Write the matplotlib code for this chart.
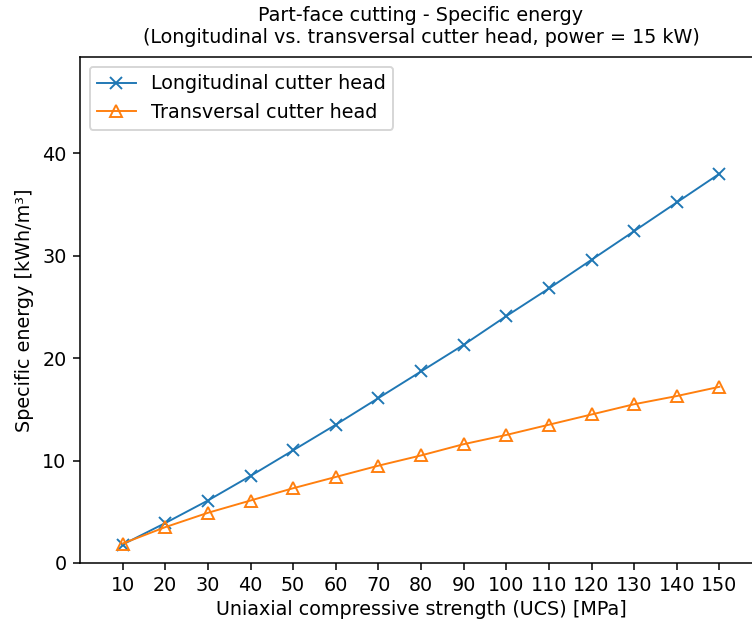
import matplotlib
matplotlib.use("Agg")
import matplotlib.pyplot as plt

ucs = [10, 20, 30, 40, 50, 60, 70, 80, 90, 100, 110, 120, 130, 140, 150]
longitudinal = [1.8, 3.9, 6.1, 8.5, 11.0, 13.5, 16.1, 18.7, 21.3, 24.1, 26.8, 29.6, 32.4, 35.2, 38.0]
transversal = [1.9, 3.5, 4.9, 6.1, 7.3, 8.4, 9.5, 10.5, 11.6, 12.5, 13.5, 14.5, 15.5, 16.3, 17.2]

DPI = 138
fig = plt.figure(figsize=(752 / DPI, 625 / DPI), dpi=DPI)
ax = fig.add_axes([80 / 752, 62 / 625, 682 / 752, 506 / 625])

ax.plot(ucs, longitudinal, marker='x', lw=1, label='Longitudinal cutter head')
ax.plot(ucs, transversal, marker='^', lw=1, markerfacecolor='none', label='Transversal cutter head')

ax.set_title('Part-face cutting - Specific energy\n'
             '(Longitudinal vs. transversal cutter head, power = 15 kW)', fontsize=10, pad=7.5)
ax.set_xlabel('Uniaxial compressive strength (UCS) [MPa]', labelpad=2.5)
ax.set_ylabel('Specific energy [kWh/m³]', labelpad=4.5)
ax.set_xticks(ucs)
ax.set_xlim(0, 160)
ax.set_ylim(0, max(longitudinal) * 1.3)
ax.legend(loc='upper left')

fig.savefig('out.png', dpi=DPI)
